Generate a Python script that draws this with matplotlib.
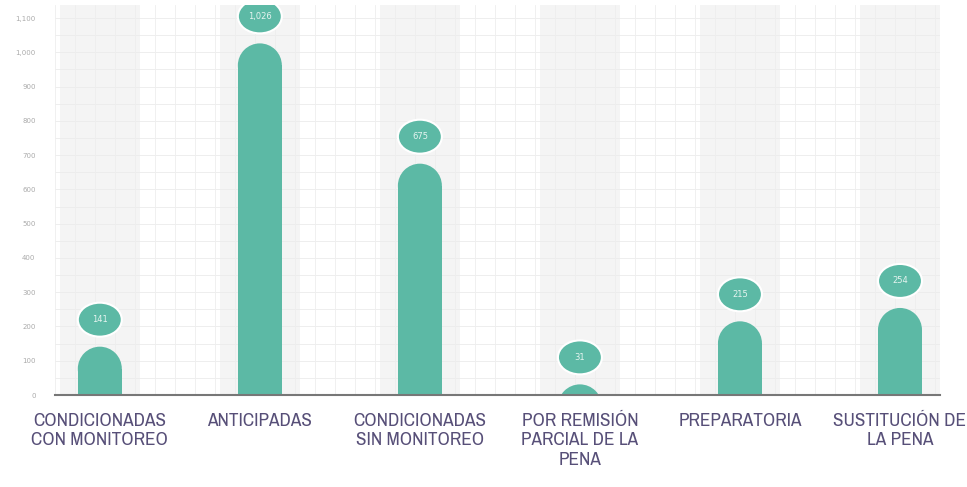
import matplotlib
matplotlib.use("Agg")
import matplotlib.pyplot as plt
from matplotlib.patches import Ellipse, Rectangle
from matplotlib import font_manager

categories = ["CONDICIONADAS\nCON MONITOREO", "ANTICIPADAS", "CONDICIONADAS\nSIN MONITOREO",
              "POR REMISIÓN\nPARCIAL DE LA\nPENA", "PREPARATORIA", "SUSTITUCIÓN DE\nLA PENA"]
values = [141, 1026, 675, 31, 215, 254]
value_labels = ["141", "1,026", "675", "31", "215", "254"]
yticks = [0, 100, 200, 300, 400, 500, 600, 700, 800, 900, 1000, 1100]
ytick_labels = ["0", "100", "200", "300", "400", "500", "600", "700", "800", "900", "1,000", "1,100"]

teal = "#5cb9a5"

cond_file = None
for f in font_manager.fontManager.ttflist:
    fn = f.fname.lower()
    if ("narrow" in fn or "condensed" in fn) and "bold" not in fn and "oblique" not in fn and "italic" not in fn:
        cond_file = f.fname
        if "narrow" in fn:
            break
if cond_file:
    label_fp = font_manager.FontProperties(fname=cond_file, size=13.8)
else:
    label_fp = font_manager.FontProperties(family="DejaVu Sans", size=11)

W, H = 967, 487
fig = plt.figure(figsize=(W / 100, H / 100), dpi=100)
ax = fig.add_axes([55 / W, (487 - 395) / H, (940 - 55) / W, 390 / H])
ymax = 1138
ax.set_xlim(-0.28, 5.25)
ax.set_ylim(0, ymax)

px_y = ymax / 390.0
px_x = (5.25 + 0.28) / 885.0

for i in range(len(categories)):
    ax.axvspan(i - 0.25, i + 0.25, color="#f4f4f4", zorder=0, lw=0)
for y in range(0, 1150, 50):
    ax.axhline(y, color="#ebebeb", lw=0.6, zorder=0.5)
x = -0.28
while x < 5.25:
    ax.axvline(x, color="#eeeeee", lw=0.6, zorder=0.5)
    x += 20 * px_x

bw = 44 * px_x
r = 22 * px_y
for i, v in enumerate(values):
    rect_top = v - r
    if rect_top > 0:
        ax.add_patch(Rectangle((i - bw / 2, 0), bw, rect_top, color=teal, lw=0, zorder=2))
    ax.add_patch(Ellipse((i, rect_top), bw, 2 * r, color=teal, lw=0, zorder=2))
    cy = v + 27 * px_y
    ax.add_patch(Ellipse((i, cy), bw, 34 * px_y, facecolor=teal, edgecolor="white", lw=1.5, zorder=3))
    ax.text(i, cy, value_labels[i], ha="center", va="center", color="#e6f4f0", fontsize=6, zorder=4)

ax.set_xticks(range(len(categories)))
ax.set_xticklabels(categories, color="#574f78", linespacing=1.25)
for t in ax.get_xticklabels():
    t.set_fontproperties(label_fp)
ax.set_yticks(yticks)
ax.set_yticklabels(ytick_labels, fontsize=5, color="#aaaaaa")
ax.tick_params(axis="x", length=0, pad=13)
ax.tick_params(axis="y", length=0, pad=14)
for s in ["top", "right", "left"]:
    ax.spines[s].set_visible(False)
ax.spines["bottom"].set_color("#777777")
ax.spines["bottom"].set_linewidth(1.5)

fig.savefig("out.png", dpi=100, facecolor="white")
